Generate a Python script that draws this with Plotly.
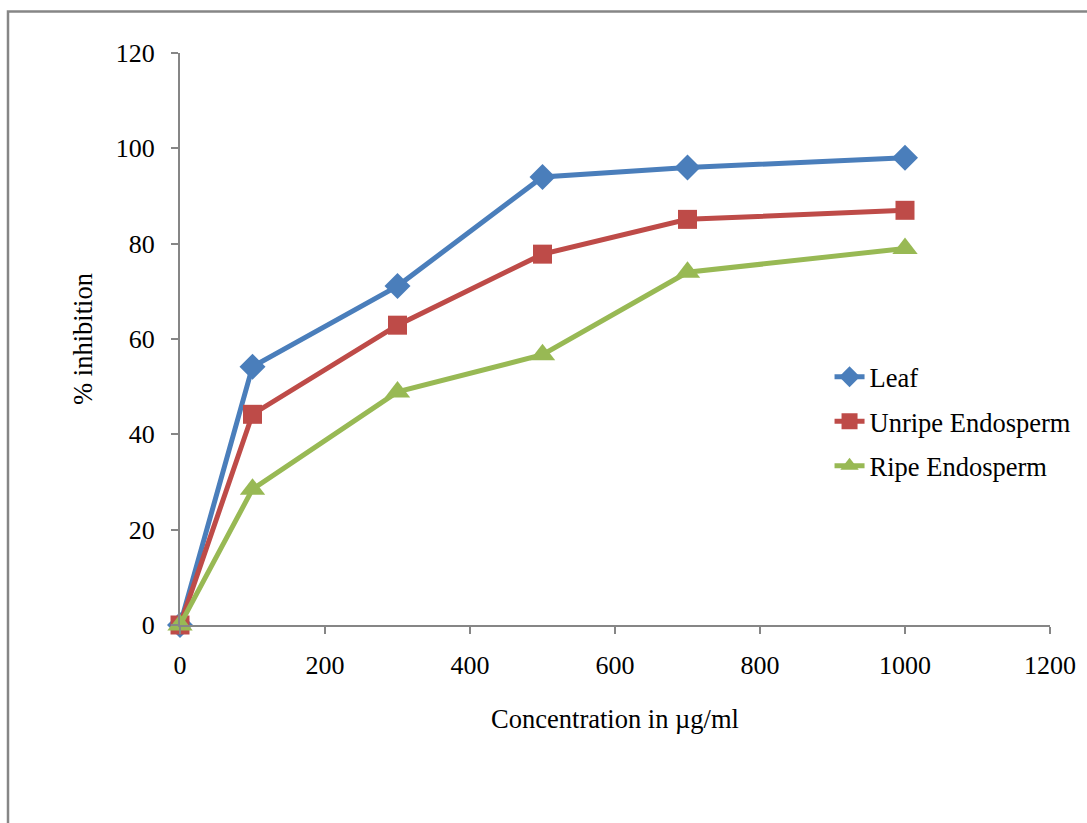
import plotly.graph_objects as go

concentration = [0, 100, 300, 500, 700, 1000]
leaf = [0, 54.2, 71.1, 94.0, 96.0, 98.0]
unripe = [0, 44.2, 62.9, 77.8, 85.1, 87.0]
ripe = [0, 28.5, 48.9, 56.7, 74.0, 79.0]

x_ticks = [0, 200, 400, 600, 800, 1000, 1200]
y_ticks = [0, 20, 40, 60, 80, 100, 120]

series = [
    ("Leaf", leaf, "#4A7EBB", "diamond", 20),
    ("Unripe Endosperm", unripe, "#BE4B48", "square", 19),
    ("Ripe Endosperm", ripe, "#98B954", "triangle-up", 22),
]

fig = go.Figure()
for i, (name, vals, color, sym, size) in enumerate(series):
    fig.add_trace(go.Scatter(
        x=concentration, y=vals, name=name, mode="lines+markers",
        line=dict(color=color, width=5),
        marker=dict(symbol=sym, size=size, color=color),
        legendgroup=f"g{i}",
    ))

font_family = "Liberation Serif, Times New Roman, serif"
axis_color = "#868686"

fig.update_layout(
    width=1087, height=823,
    margin=dict(l=180, r=37, t=53, b=198, autoexpand=False),
    paper_bgcolor="white", plot_bgcolor="white",
    font=dict(family=font_family, size=26, color="black"),
    showlegend=True,
    legend=dict(
        x=0.7466, y=0.4755, xanchor="left", yanchor="top",
        bgcolor="rgba(0,0,0,0)", font=dict(family=font_family, size=26.5),
        traceorder="grouped", tracegroupgap=7,
        itemwidth=30,
    ),
    xaxis=dict(
        range=[0, 1200], tickvals=x_ticks, ticktext=[str(v) for v in x_ticks],
        showgrid=False, zeroline=False, showline=True, linecolor=axis_color, linewidth=2,
        ticks="outside", ticklen=7, tickcolor=axis_color, tickwidth=2,
        ticklabelstandoff=9, automargin=False,
        tickfont=dict(family=font_family, size=26),
        title=dict(text="Concentration in µg/ml", font=dict(family=font_family, size=26.5), standoff=30),
    ),
    yaxis=dict(
        range=[0, 120], tickvals=y_ticks, ticktext=[str(v) for v in y_ticks],
        showgrid=False, zeroline=False, showline=True, linecolor=axis_color, linewidth=2,
        ticks="outside", ticklen=7, tickcolor=axis_color, tickwidth=2,
        ticklabelstandoff=11, automargin=False,
        tickfont=dict(family=font_family, size=26),
        title=dict(text="% inhibition", font=dict(family=font_family, size=26.5), standoff=16),
    ),
    shapes=[dict(
        type="rect", xref="paper", yref="paper",
        x0=-0.1977, x1=1.06, y0=-0.40, y1=1.0726,
        line=dict(color=axis_color, width=2.5), fillcolor="rgba(0,0,0,0)", layer="below",
    )],
)
fig.update_traces(cliponaxis=False)

fig.write_html("out.html")
